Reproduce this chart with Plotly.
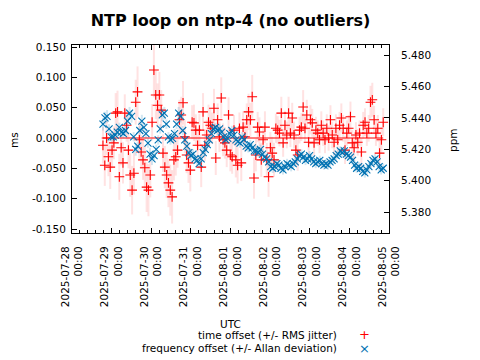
import pandas as pd
import plotly.graph_objects as go

# ---------------- data ----------------
start_time = "2025-07-28 18:45"
end_time = "2025-08-04 20:30"

time_offset_ms = [
    -0.012, -0.045, 0.000, -0.031, -0.048, -0.020, -0.008, 0.041, 0.043, -0.064,
    -0.016, -0.041, 0.041, 0.021, -0.020, -0.061, -0.086, -0.058, 0.059, 0.076,
    -0.003, -0.023, -0.036, -0.049, -0.081, -0.086, -0.061, 0.026, 0.112, 0.071,
    0.054, 0.071, 0.046, -0.025, -0.048, -0.061, -0.074, -0.086, -0.097,
    -0.036, -0.031, -0.020, 0.030, 0.038, 0.058, 0.002, -0.028, -0.041, -0.053,
    0.026, 0.025, 0.013, -0.012, 0.013, -0.048, 0.043, -0.012, 0.005, 0.026,
    0.021, 0.016, 0.049, -0.033, 0.030, 0.002, 0.066, -0.003, -0.008, -0.020,
    0.038, -0.028, -0.031, 0.013, -0.036, -0.045, 0.016,
    -0.041, 0.018, 0.002, 0.030, 0.043, 0.030, 0.068, -0.066, -0.028, 0.018,
    0.010, -0.036, -0.003, 0.018, -0.036, -0.064, -0.016, -0.025, -0.036, 0.016,
    0.013, 0.008, 0.041, -0.008, 0.021, 0.005, 0.041, 0.008, 0.033, 0.005,
    -0.020, -0.028, 0.013, 0.018, 0.051, 0.016, 0.038, -0.007, 0.030, 0.025,
    -0.008, 0.013,
    0.008, -0.003, 0.021, 0.008, -0.003, 0.016, 0.000, 0.030, 0.005, -0.007,
    0.016, -0.003, 0.021, 0.033, 0.016, -0.020, 0.008, 0.016, 0.035, -0.008,
    -0.016, 0.005, -0.007, 0.008, -0.023, 0.021, 0.026, 0.008, 0.016, 0.059,
    0.063, 0.030, 0.008, 0.016, -0.025, -0.003, 0.026,
]

rms_jitter_ms = [
    0.030, 0.034, 0.028, 0.032, 0.036, 0.030, 0.027, 0.033, 0.035, 0.038,
    0.029, 0.034, 0.031, 0.027, 0.030, 0.036, 0.040, 0.035, 0.037, 0.042,
    0.031, 0.028, 0.033, 0.036, 0.041, 0.043, 0.037, 0.030, 0.045, 0.040,
    0.036, 0.038, 0.033, 0.031, 0.035, 0.038, 0.040, 0.042, 0.044,
    0.034, 0.031, 0.029, 0.033, 0.030, 0.036, 0.027, 0.030, 0.033, 0.035,
    0.028, 0.030, 0.026, 0.029, 0.027, 0.033, 0.031, 0.026, 0.025, 0.029,
    0.027, 0.026, 0.032, 0.028, 0.027, 0.025, 0.034, 0.027, 0.026, 0.028,
    0.029, 0.027, 0.028, 0.025, 0.029, 0.030, 0.026,
    0.030, 0.026, 0.024, 0.027, 0.030, 0.028, 0.036, 0.034, 0.027, 0.025,
    0.024, 0.028, 0.023, 0.026, 0.028, 0.033, 0.026, 0.027, 0.028, 0.024,
    0.023, 0.022, 0.027, 0.023, 0.024, 0.022, 0.027, 0.023, 0.025, 0.022,
    0.024, 0.026, 0.022, 0.023, 0.028, 0.022, 0.025, 0.022, 0.024, 0.023,
    0.022, 0.022,
    0.021, 0.022, 0.023, 0.021, 0.022, 0.023, 0.021, 0.024, 0.022, 0.021,
    0.023, 0.021, 0.022, 0.024, 0.022, 0.023, 0.021, 0.022, 0.025, 0.021,
    0.022, 0.021, 0.022, 0.021, 0.023, 0.022, 0.023, 0.021, 0.022, 0.027,
    0.028, 0.023, 0.021, 0.022, 0.024, 0.021, 0.023,
]

freq_offset_ppm = [
    5.436, 5.440, 5.441, 5.433, 5.428, 5.428, 5.429, 5.431, 5.434, 5.431,
    5.430, 5.432, 5.438, 5.443, 5.441, 5.428, 5.420, 5.422, 5.432, 5.438,
    5.434, 5.430, 5.424, 5.417, 5.414, 5.416, 5.420, 5.426, 5.433, 5.442,
    5.443, 5.436, 5.428, 5.426, 5.427, 5.430, 5.436, 5.443, 5.441, 5.432,
    5.426, 5.422, 5.418, 5.416, 5.417, 5.414, 5.413, 5.411, 5.414, 5.418,
    5.420, 5.423, 5.426, 5.430, 5.433, 5.434, 5.432, 5.433, 5.431, 5.428,
    5.426, 5.427, 5.430, 5.432, 5.429, 5.426, 5.425, 5.424, 5.428, 5.426,
    5.422, 5.421, 5.423, 5.421, 5.419, 5.419, 5.418, 5.420, 5.417, 5.415,
    5.414, 5.412, 5.409, 5.408, 5.409, 5.411, 5.410, 5.408, 5.407, 5.409,
    5.411, 5.410, 5.409, 5.411, 5.412, 5.414, 5.416, 5.417, 5.415, 5.413,
    5.414, 5.416, 5.414, 5.412, 5.411, 5.412, 5.413, 5.411, 5.410, 5.411,
    5.410, 5.412, 5.413, 5.414, 5.416, 5.417, 5.419, 5.418, 5.419, 5.417,
    5.416, 5.415, 5.413, 5.410, 5.408, 5.409, 5.408, 5.406, 5.405, 5.407,
    5.409, 5.411, 5.413, 5.414, 5.412, 5.409, 5.407, 5.408,
]

allan_dev_ppm = [
    0.004, 0.004, 0.004, 0.003, 0.003, 0.003, 0.003, 0.003, 0.003, 0.003,
    0.003, 0.003, 0.004, 0.004, 0.004, 0.003, 0.004, 0.003, 0.003, 0.004,
    0.003, 0.003, 0.003, 0.004, 0.004, 0.003, 0.003, 0.003, 0.003, 0.004,
    0.004, 0.003, 0.003, 0.003, 0.003, 0.003, 0.003, 0.004, 0.004, 0.003,
    0.003, 0.003, 0.003, 0.003, 0.003, 0.003, 0.003, 0.003, 0.003, 0.003,
    0.003, 0.003, 0.003, 0.003, 0.003, 0.003, 0.003, 0.003, 0.003, 0.003,
    0.003, 0.003, 0.003, 0.003, 0.003, 0.003, 0.003, 0.003, 0.003, 0.003,
    0.003, 0.003, 0.003, 0.003, 0.003, 0.003, 0.003, 0.003, 0.003, 0.003,
    0.003, 0.003, 0.003, 0.003, 0.003, 0.003, 0.003, 0.003, 0.003, 0.003,
    0.003, 0.003, 0.003, 0.003, 0.003, 0.003, 0.003, 0.003, 0.003, 0.003,
    0.003, 0.003, 0.003, 0.003, 0.003, 0.003, 0.003, 0.003, 0.003, 0.003,
    0.003, 0.003, 0.003, 0.003, 0.003, 0.003, 0.003, 0.003, 0.003, 0.003,
    0.003, 0.003, 0.003, 0.003, 0.003, 0.003, 0.003, 0.003, 0.003, 0.003,
    0.003, 0.003, 0.003, 0.003, 0.003, 0.003, 0.003, 0.003,
]

zero_level_ms = 0.0

ms_ticks = [-0.15, -0.10, -0.05, 0.0, 0.05, 0.10, 0.15]
ppm_ticks = [5.38, 5.40, 5.42, 5.44, 5.46, 5.48]
x_ticks = pd.date_range("2025-07-28", "2025-08-05", freq="D")

# ---------------- figure ----------------
t_off = pd.date_range(start_time, end_time, periods=len(time_offset_ms))
t_frq = pd.date_range(start_time, end_time, periods=len(freq_offset_ppm))

RED = "#ff0000"
BLUE = "#0072b2"
FONT = "DejaVu Sans"
FS = 10.5

fig = go.Figure()

fig.add_trace(go.Scatter(
    x=t_frq, y=freq_offset_ppm, yaxis="y2", mode="markers",
    marker=dict(symbol="x-thin", size=7, line=dict(width=1.1, color=BLUE), color=BLUE),
    error_y=dict(type="data", array=allan_dev_ppm, color="rgba(0,114,178,0.18)",
                 thickness=2, width=0),
    showlegend=False,
))

fig.add_trace(go.Scatter(
    x=t_off, y=time_offset_ms, mode="markers",
    marker=dict(symbol="cross-thin", size=7, line=dict(width=1.1, color=RED), color=RED),
    error_y=dict(type="data", array=rms_jitter_ms, color="rgba(255,60,60,0.15)",
                 thickness=2, width=0),
    showlegend=False,
))

fig.add_trace(go.Scatter(
    x=[t_off[0], t_off[-1]], y=[zero_level_ms, zero_level_ms], mode="lines",
    line=dict(color=RED, width=1), showlegend=False, hoverinfo="skip",
))

L, R, T, B = 72, 91, 45, 127
W, H = 480, 360
pw, ph = W - L - R, H - T - B

def px(x):
    return (x - L) / pw

def py(y):
    return (H - B - y) / ph

fig.update_layout(
    width=W, height=H,
    margin=dict(l=L, r=R, t=T, b=B, pad=0, autoexpand=False),
    paper_bgcolor="white", plot_bgcolor="white",
    font=dict(family=FONT, size=FS, color="black"),
    title=dict(text="<b>NTP loop on ntp-4 (no outliers)</b>",
               font=dict(family=FONT, size=16, color="black"),
               x=0.5, xref="paper", xanchor="center",
               y=1 - 20 / H, yref="container", yanchor="middle"),
    xaxis=dict(
        range=[x_ticks[0], x_ticks[-1]],
        tickvals=list(x_ticks),
        ticktext=[d.strftime("%Y-%m-%d") + "<br>" + d.strftime("%H:%M") for d in x_ticks],
        tickangle=-90, ticks="inside", ticklen=5, tickcolor="black",
        ticklabelstandoff=8,
        minor=dict(dtick=86400000 / 5, ticks="inside", ticklen=3, tickcolor="black"),
        showline=True, linecolor="black", linewidth=1, mirror="ticks",
        showgrid=False, zeroline=False,
        tickfont=dict(family=FONT, size=FS),
    ),
    yaxis=dict(
        range=[-0.1566, 0.1533],
        tickvals=ms_ticks, ticktext=[f"{v:.3f}" for v in ms_ticks],
        ticks="inside", ticklen=5, tickcolor="black", ticklabelstandoff=3,
        showline=True, linecolor="black", linewidth=1, mirror=True,
        showgrid=False, zeroline=False,
        tickfont=dict(family=FONT, size=FS),
    ),
    yaxis2=dict(
        range=[5.3668, 5.4864], overlaying="y", side="right",
        tickvals=ppm_ticks, ticktext=[f"{v:.3f}" for v in ppm_ticks],
        ticks="inside", ticklen=5, tickcolor="black", ticklabelstandoff=9,
        showline=True, linecolor="black", linewidth=1,
        showgrid=False, zeroline=False,
        tickfont=dict(family=FONT, size=FS),
    ),
)

ann = [
    dict(text="ms", x=px(14), y=py(140), textangle=-90),
    dict(text="ppm", x=px(453), y=py(140), textangle=-90),
    dict(text="UTC", x=px(230), y=py(324)),
    dict(text="time offset (+/- RMS jitter)", x=px(339), y=py(335), xanchor="right"),
    dict(text="frequency offset (+/- Allan deviation)", x=px(339), y=py(348), xanchor="right"),
    dict(text="+", x=px(364), y=py(335), font=dict(family=FONT, size=13, color=RED)),
    dict(text="×", x=px(364), y=py(348), font=dict(family=FONT, size=13, color=BLUE)),
]
for a in ann:
    a.setdefault("xanchor", "center")
    a.setdefault("font", dict(family=FONT, size=FS, color="black"))
    fig.add_annotation(xref="paper", yref="paper", yanchor="middle",
                       showarrow=False, **a)

fig.write_html(
    "out.html",
    config={"displayModeBar": False},
    post_script="document.body.style.margin='0';document.body.style.padding='0';",
)
